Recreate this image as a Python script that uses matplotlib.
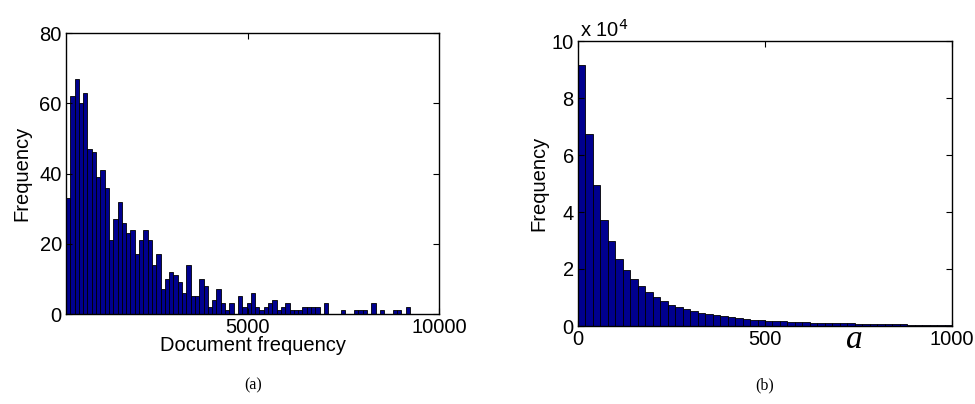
import numpy as np
import matplotlib
matplotlib.use("Agg")
import matplotlib.pyplot as plt

# ---- data: panel (a), 80 bins of document frequency ----
doc_bin_start = 240.0
doc_bin_width = 112.5
doc_counts = [33, 62, 67, 60, 63, 47, 46, 39, 41, 36,
              21, 27, 32, 26, 23, 24, 17, 21, 24, 21,
              14, 17, 7, 10, 12, 11, 9, 6, 14, 5,
              5, 10, 8, 2, 4, 7, 3, 1, 3, 0,
              5, 2, 3, 6, 2, 1, 2, 3, 4, 1,
              2, 3, 1, 1, 1, 2, 2, 2, 2, 0,
              3, 0, 0, 0, 1, 0, 0, 1, 1, 1,
              0, 3, 0, 1, 0, 0, 1, 1, 0, 2]

# ---- data: panel (b), 50 bins of width 20 over [0, 1000], counts in 1e4 ----
a_bin_width = 20.0
a_counts_1e4 = [9.17, 6.73, 4.94, 3.73, 2.98, 2.36, 1.96, 1.65, 1.39, 1.18,
                1.02, 0.87, 0.75, 0.65, 0.58, 0.51, 0.46, 0.41, 0.37, 0.34,
                0.30, 0.28, 0.25, 0.22, 0.20, 0.18, 0.17, 0.16, 0.15, 0.14,
                0.13, 0.12, 0.11, 0.105, 0.10, 0.095, 0.09, 0.085, 0.08, 0.075,
                0.07, 0.065, 0.06, 0.055, 0.05, 0.045, 0.04, 0.038, 0.035, 0.03]

xticks_a = [5000, 10000]
yticks_a = [0, 20, 40, 60, 80]
xticks_b = [0, 500, 1000]
yticks_b = [0, 2, 4, 6, 8, 10]

plt.rcParams['font.family'] = ['Liberation Sans', 'DejaVu Sans']
bar_color = '#00008F'
fs = 14.5

fig = plt.figure(figsize=(9.75, 4.04), dpi=100)
axA = fig.add_axes([66/975, 1-314/404, (439-66)/975, (314-33)/404])
axB = fig.add_axes([578/975, 1-326/404, (952-578)/975, (326-41)/404])

def style(ax):
    ax.tick_params(direction='in', length=4, width=0.8, top=True, right=True,
                   labelsize=fs, pad=3)
    for s in ax.spines.values():
        s.set_linewidth(1.0)
        s.set_color('black')

# panel (a)
nA = len(doc_counts)
leftA = doc_bin_start + doc_bin_width * np.arange(nA)
axA.bar(leftA, doc_counts, width=doc_bin_width, align='edge',
        color=bar_color, edgecolor='black', linewidth=0.6)
axA.set_xlim(doc_bin_start, 10000)
axA.set_ylim(0, 80)
axA.set_xticks(xticks_a)
axA.set_yticks(yticks_a)
style(axA)
axA.set_xlabel('Document frequency', fontsize=fs, labelpad=-1)
axA.set_ylabel('Frequency', fontsize=fs, labelpad=6)

# panel (b)
nB = len(a_counts_1e4)
leftB = a_bin_width * np.arange(nB)
axB.bar(leftB, a_counts_1e4, width=a_bin_width, align='edge',
        color=bar_color, edgecolor='black', linewidth=0.6)
axB.set_xlim(0, 1000)
axB.set_ylim(0, 10)
axB.set_xticks(xticks_b)
axB.set_yticks(yticks_b)
style(axB)
axB.set_ylabel('Frequency', fontsize=fs, labelpad=2)
axB.text(0.005, 1.0, r'x 10$^{4}$', transform=axB.transAxes, fontsize=fs,
         ha='left', va='bottom')
axB.text(0.74, -0.05, 'a', transform=axB.transAxes, fontsize=24,
         family='Liberation Serif', style='italic', ha='center', va='center')

# captions
fig.text(253/975, 1-385/404, '(a)', fontsize=11.5, family='Liberation Serif',
         ha='center', va='center')
fig.text(765/975, 1-385/404, '(b)', fontsize=11.5, family='Liberation Serif',
         ha='center', va='center')

fig.savefig('out.png', dpi=100)
